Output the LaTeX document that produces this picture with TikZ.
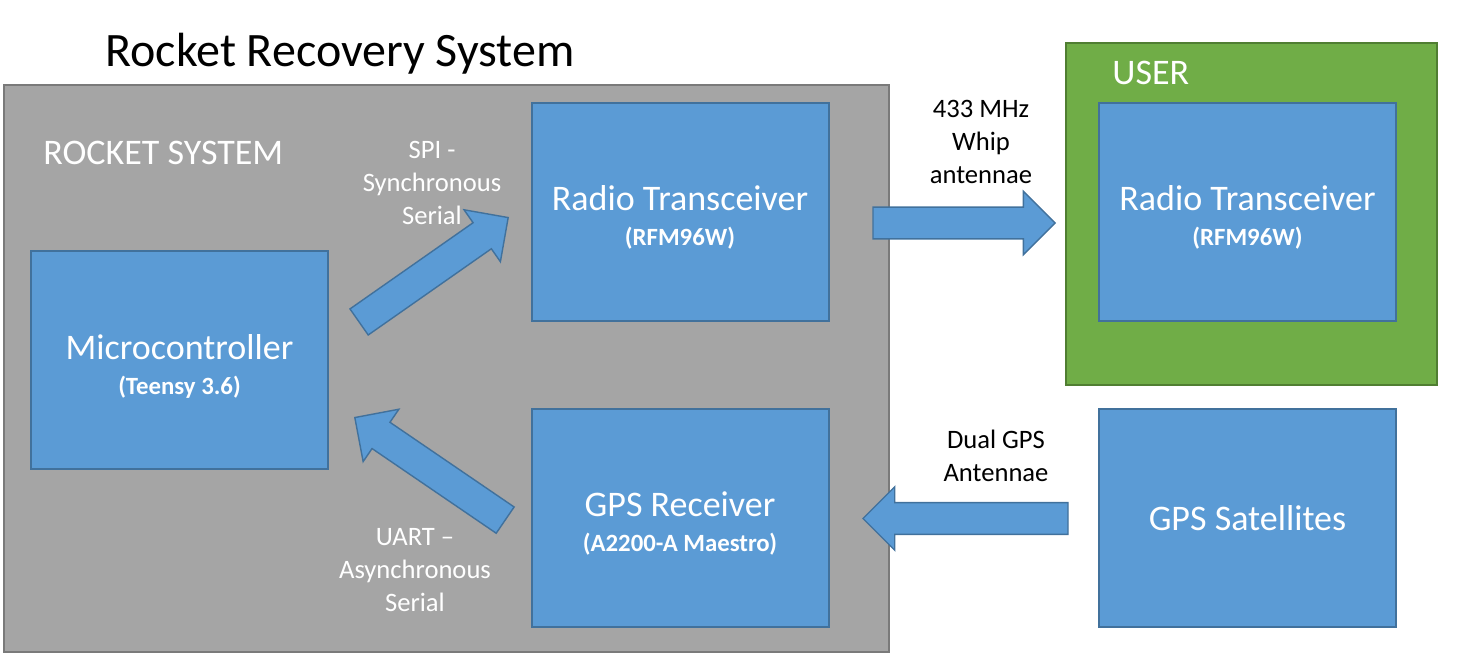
\documentclass[tikz,border=0pt]{standalone}
\usepackage{fontspec}
\setmainfont{Carlito}
\usepackage{xcolor}
\usepackage{tikz}
\usetikzlibrary{positioning, shapes.arrows}

\definecolor{boxblue}{HTML}{5B9BD5}
\definecolor{boxline}{HTML}{41719C}
\definecolor{rocketgray}{HTML}{A5A5A5}
\definecolor{rocketline}{HTML}{7A7A7A}
\definecolor{usergreen}{HTML}{70AD47}
\definecolor{userline}{HTML}{507E32}

\newcommand{\boxlabel}[2]{\rule{0pt}{18pt}#1\\[-3.5pt]{\fontsize{12.4}{14}\selectfont\bfseries #2}}

\begin{document}
\begin{tikzpicture}[
        x=0.5pt, y=-0.5pt,
        block/.style={rectangle, draw=boxline, fill=boxblue, line width=1pt, minimum width=148.5pt, minimum height=109pt, align=center, text=white, font=\fontsize{18}{21}\selectfont},
        area/.style={rectangle, line width=1pt, inner sep=0pt},
        areatitle/.style={anchor=base west, text=white, inner sep=0pt, font=\fontsize{18}{21}\selectfont},
        blockarrow/.style={single arrow, draw=boxline, fill=boxblue, line width=0.7pt, inner xsep=0pt, inner ysep=7.6pt, single arrow head extend=7.9pt, single arrow tip angle=90, anchor=tip},
        linklabel/.style={align=center, inner sep=0pt, font=\fontsize{13.3}{16.5}\selectfont},
    ]
        \useasboundingbox (0,0) rectangle (1457,662);

        % Title and areas
        \node[anchor=base, inner sep=0pt, font=\fontsize{24}{28}\selectfont] (title) at (340,67) {Rocket Recovery System};
        \node[area, draw=rocketline, fill=rocketgray, minimum width=442.5pt, minimum height=283.5pt] (rocket) at (446.5,368.5) {};
        \node[areatitle] (rockettitle) at (43,165) {ROCKET SYSTEM};
        \node[area, draw=userline, fill=usergreen, minimum width=185.5pt, minimum height=171pt] (user) at (1251.5,214) {};
        \node[areatitle] (usertitle) at (1112,84.5) {USER};

        % Blocks
        \node[block] (mcu) at (179.5,360.5) {\boxlabel{Microcontroller}{(Teensy 3.6)}};
        \node[block] (radio) at (680,212) {\boxlabel{Radio Transceiver}{(RFM96W)}};
        \node[block] (gps) at (680,518) {\boxlabel{GPS Receiver}{(A2200-A Maestro)}};
        \node[block] (userradio) at (1247.5,212) {\boxlabel{Radio Transceiver}{(RFM96W)}};
        \node[block] (sats) at (1247.5,518) {GPS Satellites};

        % Links (placed by their tips)
        \node[blockarrow, minimum height=91pt, rotate=35] (spi) at (509,217) {};
        \node[blockarrow, minimum height=91pt, rotate=145.7] (uart) at (354,417) {};
        \node[blockarrow, minimum height=91pt] (radiolink) at (1056,223) {};
        \node[blockarrow, minimum height=102.5pt, rotate=180] (gpslink) at (862,518.5) {};

        \node[linklabel, text=white] (spilabel) at (432,183) {SPI -\\Synchronous\\Serial};
        \node[linklabel, text=white] (uartlabel) at (415,570) {UART --\\Asynchronous\\Serial};
        \node[linklabel] (radiolabel) at (981,142) {433 MHz\\Whip\\antennae};
        \node[linklabel] (gpslabel) at (996,456) {Dual GPS\\Antennae};
    \end{tikzpicture}
\end{document}
